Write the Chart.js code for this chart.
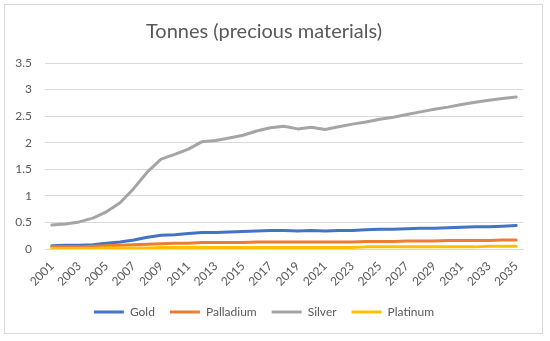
<!DOCTYPE html>
<html>
<head>
<meta charset="utf-8">
<script src="https://cdn.jsdelivr.net/npm/chart.js@4/dist/chart.umd.min.js"></script>
<style>
  html, body { margin: 0; padding: 0; background: #fff; }
  #box {
    position: absolute; left: 4px; top: 4px;
    width: 537px; height: 328px;
    border: 1px solid #d9d9d9;
  }
</style>
</head>
<body>
<div id="box"><canvas id="c1"></canvas></div>
<script>
  // data
  var years = []
  for (var y = 2001; y <= 2035; y++) years.push(String(y))

  var gold = [0.06, 0.07, 0.07, 0.08, 0.11, 0.13, 0.17, 0.22, 0.26, 0.27,
    0.29, 0.31, 0.31, 0.32, 0.33, 0.34, 0.35, 0.35, 0.34, 0.35,
    0.34, 0.35, 0.35, 0.36, 0.37, 0.37, 0.38, 0.39, 0.39, 0.40,
    0.41, 0.42, 0.42, 0.43, 0.44]
  var palladium = [0.04, 0.04, 0.04, 0.05, 0.06, 0.07, 0.08, 0.09, 0.10, 0.11,
    0.11, 0.12, 0.12, 0.12, 0.12, 0.13, 0.13, 0.13, 0.13, 0.13,
    0.13, 0.13, 0.13, 0.14, 0.14, 0.14, 0.15, 0.15, 0.15, 0.16,
    0.16, 0.16, 0.16, 0.17, 0.17]
  var silver = [0.45, 0.47, 0.51, 0.58, 0.70, 0.87, 1.14, 1.45, 1.69, 1.78,
    1.88, 2.02, 2.04, 2.09, 2.14, 2.22, 2.28, 2.31, 2.26, 2.29,
    2.25, 2.30, 2.35, 2.39, 2.44, 2.48, 2.53, 2.58, 2.63, 2.67,
    2.72, 2.76, 2.80, 2.83, 2.86]
  var platinum = [0.01, 0.01, 0.01, 0.01, 0.02, 0.02, 0.02, 0.02, 0.03, 0.03,
    0.03, 0.03, 0.03, 0.03, 0.03, 0.03, 0.03, 0.03, 0.03, 0.03,
    0.03, 0.03, 0.03, 0.04, 0.04, 0.04, 0.04, 0.04, 0.04, 0.04,
    0.04, 0.04, 0.05, 0.05, 0.05]

  var textColor = '#595959'
  var gridColor = '#d9d9d9'
  var fontFamily = 'Lato, "Open Sans", sans-serif'

  function series(label, data, color, order) {
    return {
      label: label,
      data: data,
      borderColor: color,
      backgroundColor: color,
      borderWidth: 3,
      pointRadius: 0,
      tension: 0,
      borderCapStyle: 'round',
      borderJoinStyle: 'round',
      order: order
    }
  }

  var ctx = document.getElementById('c1')
  var chart1 = new Chart(ctx, {
    type: 'line',
    data: {
      labels: years,
      datasets: [
        series('Gold', gold, '#4472C4', 3),
        series('Palladium', palladium, '#ED7D31', 2),
        series('Silver', silver, '#A5A5A5', 1),
        series('Platinum', platinum, '#FFC000', 0)
      ]
    },
    options: {
      responsive: true,
      maintainAspectRatio: false,
      animation: false,
      layout: { padding: { left: 0, right: 19, top: 0, bottom: 5 } },
      plugins: {
        tooltip: { enabled: false },
        title: {
          display: true,
          text: 'Tonnes (precious materials)',
          color: textColor,
          font: { family: fontFamily, size: 20, weight: 'normal' },
          padding: { top: 15, bottom: 19 }
        },
        legend: {
          position: 'bottom',
          labels: {
            color: textColor,
            font: { family: fontFamily, size: 12 },
            boxWidth: 30,
            boxHeight: 3,
            padding: 15,
            sort: function(a, b) { return a.datasetIndex - b.datasetIndex },
            generateLabels: function(chart) {
              var items = Chart.defaults.plugins.legend.labels.generateLabels(chart)
              items.forEach(function(item) { item.lineWidth = 0 })
              return items
            }
          }
        }
      },
      scales: {
        x: {
          offset: true,
          grid: { display: false },
          border: { display: true, color: gridColor },
          ticks: {
            color: textColor,
            font: { family: fontFamily, size: 12 },
            autoSkip: false,
            maxRotation: 45,
            minRotation: 45,
            padding: 2,
            callback: function(value, index) {
              return index % 2 === 0 ? this.getLabelForValue(value) : ''
            }
          },
          afterFit: function(scale) { scale.height = 42 }
        },
        y: {
          min: 0,
          max: 3.5,
          grid: { color: gridColor, drawTicks: false },
          border: { display: false },
          ticks: {
            stepSize: 0.5,
            color: textColor,
            font: { family: fontFamily, size: 12 },
            padding: 13,
            callback: function(value) { return String(value) }
          },
          afterFit: function(scale) { scale.width = 40 }
        }
      }
    }
  })
</script>
</body>
</html>
